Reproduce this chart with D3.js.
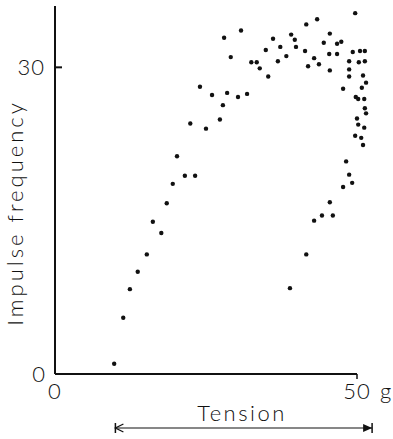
<!DOCTYPE html>
<html>
<head>
<meta charset="utf-8">
<script src="https://cdn.jsdelivr.net/npm/d3@7"></script>
<style>
  body { margin: 0; background: #fff; }
  text { font-family: Lato, "Open Sans", sans-serif; font-weight: 300; fill: #111; }
</style>
</head>
<body>
<div id="chart"></div>
<script>
// tension (g) and impulse frequency
var tension = [9.8, 11.3, 12.4, 13.7, 15.2, 16.2, 17.6, 18.5, 19.5, 20.2, 21.5, 23.2, 22.4, 25.0,
  24.0, 26.0, 28.5, 30.3, 31.8, 27.8, 27.3, 28.0, 30.8, 29.1, 32.5, 33.4, 33.9, 35.3, 34.9, 36.1,
  36.9, 37.3, 38.3, 39.1, 39.7, 39.9, 41.4, 41.6, 41.9, 43.4, 42.9, 43.7, 44.5, 45.5, 45.4, 46.7,
  45.5, 46.7, 47.4, 49.7, 49.3, 50.5, 51.3, 48.7, 50.3, 51.3, 48.7, 48.7, 51.0, 51.5, 50.8, 47.7,
  49.8, 50.2, 51.2, 51.3, 51.5, 50.0, 50.2, 51.2, 49.7, 50.7, 51.0, 48.2, 48.7, 49.2, 47.7, 45.5,
  44.2, 46.0, 42.9, 41.6, 38.9];
var freq = [1.0, 5.5, 8.3, 10.0, 11.7, 14.9, 13.8, 16.7, 18.6, 21.3, 19.4, 19.4, 24.5, 24.0,
  28.1, 27.3, 27.5, 27.1, 27.4, 26.3, 24.9, 32.9, 33.6, 31.0, 30.5, 30.5, 29.9, 29.1, 31.7, 32.8,
  30.6, 32.0, 31.1, 33.2, 32.7, 32.0, 31.6, 34.2, 30.1, 34.7, 30.9, 30.3, 32.4, 33.3, 31.3, 31.3,
  29.7, 32.3, 32.5, 35.3, 31.5, 31.6, 31.6, 30.6, 30.5, 30.6, 29.8, 29.1, 29.2, 28.5, 28.0, 27.9,
  27.1, 26.9, 26.9, 26.0, 25.5, 25.0, 24.4, 24.1, 23.3, 23.1, 22.4, 20.8, 19.5, 18.7, 18.3, 16.8,
  15.5, 15.5, 15.0, 11.7, 8.4];
var xTicks = [0, 50];
var yTicks = [0, 30];
var tensionRange = [10, 52.5]; // span of the arrow under the axis

var data = tension.map(function(d, i) { return {x: d, y: freq[i]}; });

var width = 393, height = 439;
var svg = d3.select("#chart")
  .append("svg")
    .attr("width", width)
    .attr("height", height);

var x = d3.scaleLinear().domain([0, 50]).range([55, 357]);
var y = d3.scaleLinear().domain([0, 36]).range([374, 6]);

// axis lines
svg.append("line")
    .attr("x1", x(0)).attr("x2", x(0))
    .attr("y1", y(0)).attr("y2", y(36))
    .attr("stroke", "#111").attr("stroke-width", 2);
svg.append("line")
    .attr("x1", x(0)).attr("x2", x(50))
    .attr("y1", y(0)).attr("y2", y(0))
    .attr("stroke", "#111").attr("stroke-width", 2);

// ticks: y tick points inward, x tick hangs below
svg.append("line")
    .attr("x1", x(0)).attr("x2", x(0) + 7)
    .attr("y1", y(30)).attr("y2", y(30))
    .attr("stroke", "#111").attr("stroke-width", 2);
svg.append("line")
    .attr("x1", x(50)).attr("x2", x(50))
    .attr("y1", y(0)).attr("y2", y(0) + 5)
    .attr("stroke", "#111").attr("stroke-width", 1.5);

// tick labels
svg.selectAll(".ylab")
  .data(yTicks)
  .enter().append("text")
    .attr("class", "ylab")
    .attr("x", function(d) { return d == 0 ? 46 : 45; })
    .attr("y", function(d) { return y(d) + 8; })
    .attr("text-anchor", "end")
    .style("font-size", "22px")
    .style("letter-spacing", "1px")
    .text(function(d) { return d; });

svg.selectAll(".xlab")
  .data(xTicks)
  .enter().append("text")
    .attr("class", "xlab")
    .attr("x", function(d) { return x(d); })
    .attr("y", 399)
    .attr("text-anchor", "middle")
    .style("font-size", "22px")
    .style("letter-spacing", "1px")
    .text(function(d) { return d; });

svg.append("text")
    .attr("x", x(50) + 23)
    .attr("y", 399)
    .style("font-size", "22px")
    .text("g");

// axis titles
svg.append("text")
    .attr("transform", "translate(23," + 213 + ") rotate(-90)")
    .attr("text-anchor", "middle")
    .style("font-size", "22px")
    .style("letter-spacing", "3px")
    .text("Impulse frequency");

svg.append("text")
    .attr("x", 242)
    .attr("y", 421)
    .attr("text-anchor", "middle")
    .style("font-size", "22px")
    .style("letter-spacing", "2.5px")
    .text("Tension");

// tension arrow
var ay = 428;
var x0 = x(tensionRange[0]), x1 = x(tensionRange[1]);
svg.append("line")
    .attr("x1", x0).attr("x2", x1)
    .attr("y1", ay).attr("y2", ay)
    .attr("stroke", "#111").attr("stroke-width", 1.2);
// left end: bar + open chevron
svg.append("line")
    .attr("x1", x0).attr("x2", x0)
    .attr("y1", ay - 5).attr("y2", ay + 5)
    .attr("stroke", "#111").attr("stroke-width", 1.5);
svg.append("path")
    .attr("d", "M" + (x0 + 8) + "," + (ay - 4) + "L" + x0 + "," + ay + "L" + (x0 + 8) + "," + (ay + 4))
    .attr("fill", "none")
    .attr("stroke", "#111").attr("stroke-width", 1.3);
// right end: filled head + bar
svg.append("line")
    .attr("x1", x1).attr("x2", x1)
    .attr("y1", ay - 5).attr("y2", ay + 5)
    .attr("stroke", "#111").attr("stroke-width", 1.5);
svg.append("path")
    .attr("d", "M" + x1 + "," + ay + "L" + (x1 - 9) + "," + (ay - 4) + "L" + (x1 - 9) + "," + (ay + 4) + "Z")
    .attr("fill", "#111");

// dots
svg.selectAll("circle")
  .data(data)
  .enter()
  .append("circle")
    .attr("cx", function(d) { return x(d.x); })
    .attr("cy", function(d) { return y(d.y); })
    .attr("r", 2.2)
    .style("fill", "#111");
</script>
</body>
</html>
